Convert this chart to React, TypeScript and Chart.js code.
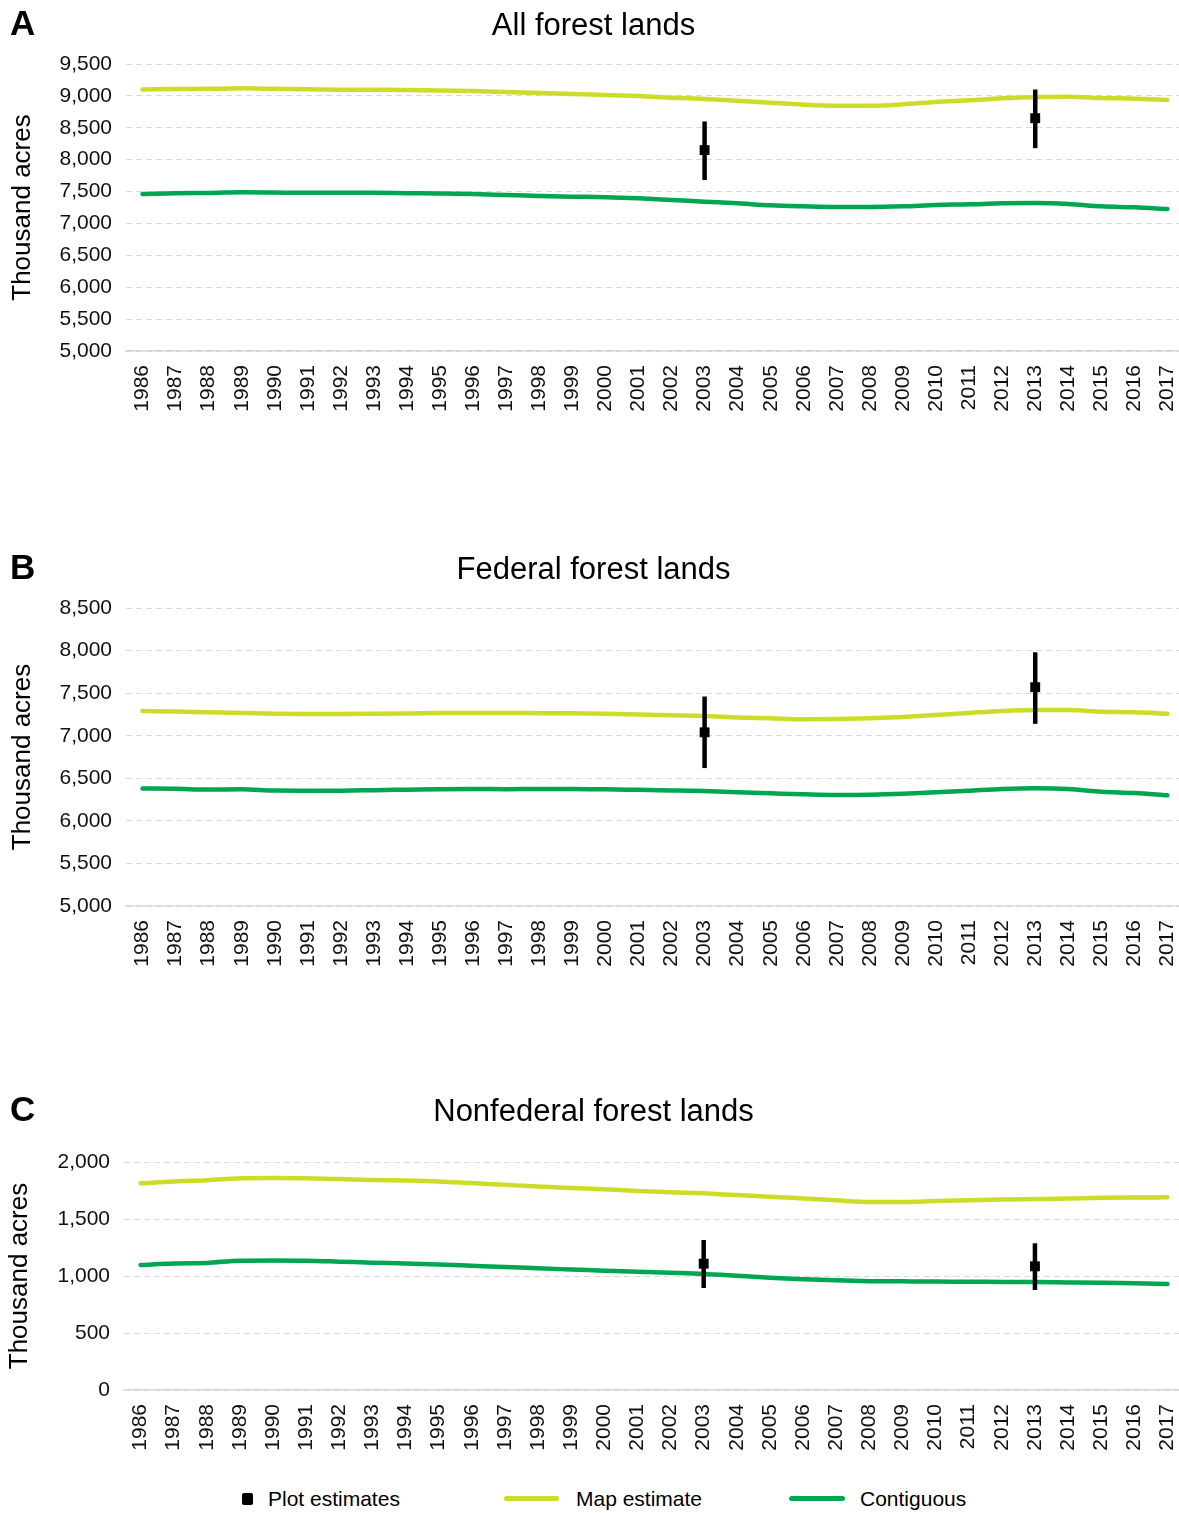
import React, { useEffect, useRef } from 'react';
import { Chart, registerables } from 'chart.js';

Chart.register(...registerables);

const FONT = '"Liberation Sans", Arial, Helvetica, sans-serif';
const MAP_COLOR = '#cddc29';
const CONTIG_COLOR = '#00a651';
const GRID_COLOR = '#d9d9d9';

const years = [
  '1986', '1987', '1988', '1989', '1990', '1991', '1992', '1993', '1994', '1995', '1996',
  '1997', '1998', '1999', '2000', '2001', '2002', '2003', '2004', '2005', '2006', '2007',
  '2008', '2009', '2010', '2011', '2012', '2013', '2014', '2015', '2016', '2017',
];
const plotYears = ['2003', '2013'];

// A: All forest lands
const allMap = [
  9100, 9108, 9110, 9118, 9110, 9105, 9097, 9095, 9092, 9085, 9075, 9060, 9045, 9030, 9015, 8998,
  8972, 8951, 8925, 8893, 8862, 8846, 8846, 8868, 8904, 8930, 8962, 8983, 8988, 8967, 8956, 8936,
];
const allContig = [
  7462, 7475, 7478, 7490, 7485, 7480, 7480, 7480, 7475, 7470, 7460, 7446, 7432, 7420, 7412, 7394,
  7368, 7341, 7315, 7284, 7268, 7258, 7258, 7268, 7289, 7300, 7315, 7320, 7305, 7268, 7253, 7227,
];
const allPlot = [8150, 8650];
const allLow = [7680, 8180];
const allHigh = [8600, 9100];

// B: Federal forest lands
const fedMap = [
  7290, 7283, 7275, 7268, 7258, 7255, 7255, 7258, 7262, 7267, 7268, 7268, 7265, 7263, 7258, 7250,
  7240, 7231, 7215, 7204, 7192, 7195, 7204, 7220, 7243, 7267, 7290, 7302, 7302, 7282, 7275, 7259,
];
const fedContig = [
  6380, 6376, 6368, 6370, 6356, 6355, 6355, 6360, 6366, 6372, 6374, 6372, 6374, 6374, 6370, 6364,
  6358, 6350, 6336, 6324, 6312, 6304, 6308, 6319, 6335, 6354, 6374, 6382, 6374, 6343, 6327, 6300,
];
const fedPlot = [7040, 7570];
const fedLow = [6620, 7140];
const fedHigh = [7460, 7980];

// C: Nonfederal forest lands
const nonfedMap = [
  1813, 1830, 1840, 1857, 1860, 1857, 1850, 1842, 1838, 1830, 1815, 1800, 1785, 1772, 1760, 1746,
  1735, 1725, 1710, 1696, 1680, 1664, 1649, 1650, 1657, 1664, 1670, 1675, 1680, 1687, 1688, 1690,
];
const nonfedContig = [
  1097, 1110, 1115, 1134, 1136, 1134, 1126, 1117, 1110, 1101, 1090, 1079, 1067, 1057, 1047, 1037,
  1028, 1018, 1002, 985, 972, 962, 955, 953, 951, 950, 948, 947, 944, 941, 937, 930,
];
const nonfedPlot = [1108, 1085];
const nonfedLow = [895, 877];
const nonfedHigh = [1316, 1287];

const panelExtras = {
  id: 'panelExtras',
  afterDatasetsDraw(chart: any, _args: any, opts: any) {
    const { ctx } = chart;
    const x = chart.scales.x;
    const y = chart.scales.y;
    ctx.save();
    ctx.strokeStyle = '#000';
    ctx.lineWidth = 4.5;
    ctx.lineCap = 'butt';
    (opts.years || []).forEach((yr: string, i: number) => {
      const idx = years.indexOf(yr);
      const px = x.getPixelForValue(idx);
      ctx.beginPath();
      ctx.moveTo(px, y.getPixelForValue(opts.low[i]));
      ctx.lineTo(px, y.getPixelForValue(opts.high[i]));
      ctx.stroke();
    });
    ctx.restore();
  },
  afterDraw(chart: any, _args: any, opts: any) {
    const { ctx } = chart;
    ctx.save();
    ctx.fillStyle = '#000';
    ctx.font = `bold 35px ${FONT}`;
    ctx.textAlign = 'left';
    ctx.textBaseline = 'alphabetic';
    ctx.fillText(opts.letter, 10, 35);
    ctx.restore();
  },
};

type PanelProps = {
  letter: string;
  title: string;
  map: number[];
  contig: number[];
  plot: number[];
  low: number[];
  high: number[];
  min: number;
  max: number;
  top: number;
  plotTop: number;
  plotHeight: number;
  plotLeft: number;
  yTitlePad: number;
};

const LEFT_PAD = 3;
const CANVAS_W = 1184;

function Panel(p: PanelProps) {
  const ref = useRef<HTMLCanvasElement | null>(null);
  const xAxisHeight = 80;
  const height = p.plotTop + p.plotHeight + xAxisHeight;
  const titleFont = 31;
  const titleTopPad = 8;
  const titleBottomPad = p.plotTop - titleTopPad - titleFont * 1.2;

  useEffect(() => {
    if (!ref.current) return;
    const plotData = years.map((yr) => {
      const i = plotYears.indexOf(yr);
      return i >= 0 ? p.plot[i] : null;
    });
    const tickFont = { family: FONT, size: 21 };
    const chart = new Chart(ref.current, {
      type: 'line',
      data: {
        labels: years,
        datasets: [
          {
            label: 'Plot estimates',
            data: plotData,
            showLine: false,
            pointStyle: 'rect',
            pointRadius: (c: any) => (c.raw == null ? 0 : 7),
            pointHoverRadius: (c: any) => (c.raw == null ? 0 : 7),
            pointBackgroundColor: '#000',
            pointBorderColor: '#000',
            pointBorderWidth: 0,
            backgroundColor: '#000',
            borderColor: '#000',
            borderWidth: 0,
          },
          {
            label: 'Map estimate',
            data: p.map,
            borderColor: MAP_COLOR,
            backgroundColor: MAP_COLOR,
            borderWidth: 4.5,
            pointRadius: 0,
            cubicInterpolationMode: 'monotone',
            borderCapStyle: 'round',
            borderJoinStyle: 'round',
            fill: false,
          },
          {
            label: 'Contiguous',
            data: p.contig,
            borderColor: CONTIG_COLOR,
            backgroundColor: CONTIG_COLOR,
            borderWidth: 4.5,
            pointRadius: 0,
            cubicInterpolationMode: 'monotone',
            borderCapStyle: 'round',
            borderJoinStyle: 'round',
            fill: false,
          },
        ] as any,
      },
      options: {
        responsive: false,
        animation: false,
        layout: { padding: { left: LEFT_PAD, right: 0, top: 0, bottom: 0 } },
        events: [],
        plugins: {
          legend: { display: false },
          tooltip: { enabled: false },
          title: {
            display: true,
            text: p.title,
            color: '#000',
            font: { family: FONT, size: titleFont, weight: 'normal' },
            padding: { top: titleTopPad, bottom: titleBottomPad },
          },
          panelExtras: { letter: p.letter, years: plotYears, low: p.low, high: p.high },
        } as any,
        scales: {
          x: {
            type: 'category',
            offset: true,
            grid: { display: false, drawTicks: false },
            border: { display: true, color: GRID_COLOR, width: 1.5 },
            ticks: {
              autoSkip: false,
              maxRotation: 90,
              minRotation: 90,
              padding: 14,
              color: '#111',
              font: tickFont,
            },
            afterFit: (s: any) => {
              s.height = xAxisHeight;
              s.paddingLeft = 0;
              s.paddingRight = 0;
            },
          },
          y: {
            min: p.min,
            max: p.max,
            grid: { color: GRID_COLOR, drawTicks: false, lineWidth: 1 },
            border: { display: false, dash: [6, 4] },
            ticks: {
              stepSize: 500,
              padding: 14,
              color: '#111',
              font: tickFont,
              callback: (v: any) => Number(v).toLocaleString('en-US'),
            },
            title: {
              display: true,
              text: 'Thousand acres',
              color: '#000',
              font: { family: FONT, size: 26 },
              padding: { top: p.yTitlePad, bottom: 0 },
            },
            afterFit: (s: any) => {
              s.width = p.plotLeft - LEFT_PAD;
            },
          },
        } as any,
      },
      plugins: [panelExtras],
    } as any);
    return () => chart.destroy();
  }, []);

  return (
    <canvas
      ref={ref}
      width={CANVAS_W}
      height={height}
      style={{ position: 'absolute', left: 0, top: p.top, width: CANVAS_W, height, display: 'block' }}
    />
  );
}

const legendText: React.CSSProperties = {
  position: 'absolute',
  top: 1486,
  fontFamily: FONT,
  fontSize: 21,
  lineHeight: '26px',
  color: '#000',
  whiteSpace: 'nowrap',
};

export default function App() {
  return (
    <div
      style={{
        position: 'absolute',
        left: 0,
        top: 0,
        width: 1179,
        height: 1513,
        background: '#fff',
        overflow: 'hidden',
      }}
    >
      <Panel
        letter="A"
        title="All forest lands"
        map={allMap}
        contig={allContig}
        plot={allPlot}
        low={allLow}
        high={allHigh}
        min={5000}
        max={9500}
        top={0}
        plotTop={64}
        plotHeight={287}
        plotLeft={126}
        yTitlePad={4}
      />
      <Panel
        letter="B"
        title="Federal forest lands"
        map={fedMap}
        contig={fedContig}
        plot={fedPlot}
        low={fedLow}
        high={fedHigh}
        min={5000}
        max={8500}
        top={544}
        plotTop={64}
        plotHeight={298}
        plotLeft={126}
        yTitlePad={4}
      />
      <Panel
        letter="C"
        title="Nonfederal forest lands"
        map={nonfedMap}
        contig={nonfedContig}
        plot={nonfedPlot}
        low={nonfedLow}
        high={nonfedHigh}
        min={0}
        max={2000}
        top={1086}
        plotTop={76}
        plotHeight={228}
        plotLeft={124}
        yTitlePad={1}
      />
      <div
        style={{
          position: 'absolute',
          left: 242,
          top: 1493,
          width: 11,
          height: 12,
          borderRadius: 2,
          background: '#000',
        }}
      />
      <div style={{ ...legendText, left: 268 }}>Plot estimates</div>
      <div
        style={{
          position: 'absolute',
          left: 504,
          top: 1496,
          width: 55,
          height: 5,
          borderRadius: 3,
          background: MAP_COLOR,
        }}
      />
      <div style={{ ...legendText, left: 576 }}>Map estimate</div>
      <div
        style={{
          position: 'absolute',
          left: 789,
          top: 1496,
          width: 56,
          height: 5,
          borderRadius: 3,
          background: CONTIG_COLOR,
        }}
      />
      <div style={{ ...legendText, left: 860 }}>Contiguous</div>
    </div>
  );
}
